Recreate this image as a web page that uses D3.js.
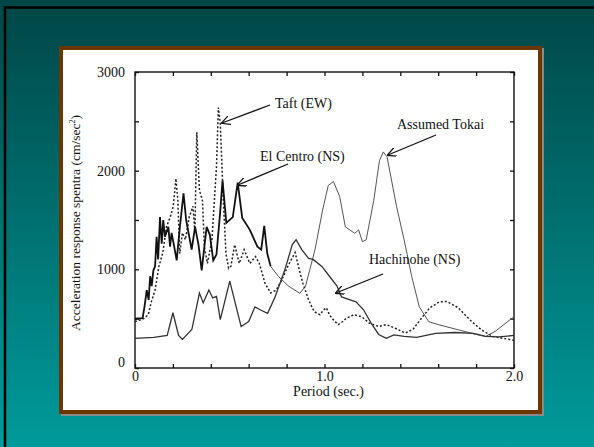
<!DOCTYPE html>
<html><head><meta charset="utf-8">
<script src="https://cdn.jsdelivr.net/npm/d3@7"></script>
<style>html,body{margin:0;padding:0;background:#fff}svg{display:block}</style>
</head><body>
<script>
// ---- data ----
const xTicks = [0,0.2,0.4,0.6,0.8,1.0,1.2,1.4,1.6,1.8,2.0];
const xTickLabels = {0:"0",1:"1.0",2:"2.0"};
const yTicks = [0,500,1000,1500,2000,2500,3000];
const yTickLabels = {0:"0",1000:"1000",2000:"2000",3000:"3000"};

const elCentro = [[0,500],[0.04,505],[0.05,620],[0.062,790],[0.072,690],[0.08,930],[0.088,830],[0.097,990],[0.106,1030],[0.114,1330],[0.122,1100],[0.132,1530],[0.141,1260],[0.149,1500],[0.158,1330],[0.176,1430],[0.185,1230],[0.193,1370],[0.205,1250],[0.22,1090],[0.237,1430],[0.256,1770],[0.27,1500],[0.299,1200],[0.317,1430],[0.335,1250],[0.352,990],[0.378,1430],[0.395,1350],[0.413,1090],[0.43,1150],[0.449,1570],[0.462,1900],[0.482,1470],[0.516,1530],[0.542,1880],[0.566,1520],[0.606,1400],[0.646,1230],[0.666,1200],[0.682,1440],[0.698,1160],[0.716,1030]];
const taft = [[0,470],[0.046,500],[0.07,540],[0.086,670],[0.106,790],[0.126,1030],[0.146,1160],[0.166,1430],[0.186,1530],[0.202,1640],[0.216,1920],[0.226,1700],[0.236,1160],[0.25,1370],[0.266,1300],[0.286,1530],[0.306,1640],[0.316,1370],[0.326,2390],[0.34,1800],[0.356,1700],[0.366,1230],[0.382,1060],[0.406,1300],[0.43,2040],[0.44,2640],[0.45,2480],[0.466,1700],[0.48,1160],[0.494,1010],[0.506,1030],[0.526,1250],[0.55,1060],[0.576,1200],[0.606,1060],[0.636,1130],[0.656,1060],[0.686,860],[0.716,760],[0.746,790],[0.776,900],[0.806,1030],[0.845,1170],[0.866,1000],[0.886,860],[0.916,690],[0.946,570],[0.976,540],[0.996,590],[1.01,610],[1.026,540],[1.046,490],[1.072,440],[1.086,455],[1.116,505],[1.156,540],[1.196,520],[1.236,455],[1.286,420],[1.326,440],[1.376,400],[1.426,355],[1.466,390],[1.506,490],[1.556,610],[1.606,670],[1.646,675],[1.706,610],[1.766,490],[1.826,390],[1.886,320],[1.946,300],[2.0,280]];
const hachinohe = [[0,300],[0.1,310],[0.17,330],[0.2,560],[0.23,330],[0.25,290],[0.3,390],[0.34,760],[0.36,660],[0.39,790],[0.41,710],[0.43,725],[0.45,490],[0.5,880],[0.56,420],[0.6,470],[0.633,620],[0.66,590],[0.70,554],[0.739,720],[0.79,990],[0.83,1250],[0.85,1300],[0.88,1200],[0.916,1110],[0.94,1100],[0.986,1030],[1.026,930],[1.066,830],[1.09,720],[1.12,700],[1.166,670],[1.206,590],[1.246,455],[1.286,340],[1.326,300],[1.366,335],[1.42,320],[1.486,310],[1.586,350],[1.686,360],[1.786,350],[1.85,320],[1.92,315],[2.0,330]];
const tokai = [[0.716,1030],[0.756,930],[0.81,830],[0.87,757],[0.9,830],[0.95,1200],[0.99,1600],[1.02,1850],[1.047,1890],[1.08,1740],[1.11,1430],[1.16,1365],[1.18,1400],[1.2,1280],[1.22,1300],[1.26,1700],[1.29,2100],[1.31,2190],[1.33,2140],[1.38,1640],[1.42,1300],[1.46,930],[1.5,620],[1.55,470],[1.6,440],[1.7,390],[1.8,340],[1.85,320],[1.9,370],[2.0,520]];

const annotations = [
  {text:"Taft (EW)", tx:275, ty:108, x1:270, y1:105, x2:222, y2:123},
  {text:"El Centro (NS)", tx:260, ty:161, x1:288, y1:164, x2:238, y2:185},
  {text:"Assumed Tokai", tx:397, ty:129, x1:436, y1:135, x2:388, y2:155},
  {text:"Hachinohe (NS)", tx:369, ty:264, x1:383, y1:274, x2:336, y2:293}
];

// ---- drawing ----
const W=594,H=447;
const svg=d3.select("body").append("svg").attr("width",W).attr("height",H);
const defs=svg.append("defs");
const g=defs.append("linearGradient").attr("id","bg").attr("x1",0).attr("y1",0).attr("x2",0).attr("y2",1);
g.append("stop").attr("offset","0%").attr("stop-color","#004646");
g.append("stop").attr("offset","100%").attr("stop-color","#009b9b");
svg.append("rect").attr("width",W).attr("height",H).attr("fill","url(#bg)");
svg.append("rect").attr("x",5).attr("y",7.5).attr("width",W+10).attr("height",H+10).attr("fill","none").attr("stroke","#000").attr("stroke-width",2.5);

// frame box
svg.append("rect").attr("x",61).attr("y",48).attr("width",483).attr("height",368).attr("fill","#8a8a8a");
svg.append("rect").attr("x",59).attr("y",46).attr("width",483).attr("height",368).attr("fill","#6b3600");
svg.append("rect").attr("x",63).attr("y",50).attr("width",475).attr("height",360).attr("fill","#fff");

const L=135,R=514,T=72,B=368;
const x=d3.scaleLinear().domain([0,2]).range([L,R]);
const y=d3.scaleLinear().domain([0,3000]).range([B,T]);
const font="'Liberation Serif','Times New Roman',serif";

const tickLen=4;
const axB=d3.axisBottom(x).tickValues(xTicks).tickSize(-tickLen).tickFormat(d=>xTickLabels[d]||"");
const axT=d3.axisTop(x).tickValues(xTicks).tickSize(-tickLen).tickFormat("");
const axL=d3.axisLeft(y).tickValues(yTicks).tickSize(-tickLen).tickFormat(d=>yTickLabels[d]||"");
const axR=d3.axisRight(y).tickValues(yTicks).tickSize(-tickLen).tickFormat("");
function styleAx(sel){sel.select(".domain").remove();sel.selectAll("line").attr("stroke","#111").attr("stroke-width",1.3);sel.selectAll("text").attr("font-family",font).attr("font-size",14).attr("fill","#111");}
const gb=svg.append("g").attr("transform",`translate(0,${B})`).call(axB).call(styleAx);
gb.selectAll("text").attr("y",3).attr("dy","0.71em");
svg.append("g").attr("transform",`translate(0,${T})`).call(axT).call(styleAx);
const gl=svg.append("g").attr("transform",`translate(${L},0)`).call(axL).call(styleAx);
gl.selectAll("text").attr("x",-10);
gl.selectAll(".tick").filter(d=>d===0).select("text").attr("dy","-0.1em");
svg.append("g").attr("transform",`translate(${R},0)`).call(axR).call(styleAx);
svg.append("rect").attr("x",L).attr("y",T).attr("width",R-L).attr("height",B-T).attr("fill","none").attr("stroke","#111").attr("stroke-width",1.4);

// axis titles
svg.append("text").attr("x",(L+R)/2+4).attr("y",396).attr("text-anchor","middle").attr("font-family",font).attr("font-size",14).attr("fill","#111").text("Period (sec.)");
const yt=svg.append("text").attr("transform","translate(80,223) rotate(-90)").attr("text-anchor","middle").attr("font-family",font).attr("font-size",13.5).attr("fill","#111");
yt.append("tspan").text("Acceleration response spentra (cm/sec");
yt.append("tspan").attr("font-size",8).attr("dy",-5).text("2");
yt.append("tspan").attr("dy",5).text(")");

// lines
const line=d3.line().x(d=>x(d[0])).y(d=>y(d[1]));
const plot=svg.append("g");
plot.append("path").datum(tokai).attr("d",line).attr("fill","none").attr("stroke","#555").attr("stroke-width",1.0);
plot.append("path").datum(taft).attr("d",line).attr("fill","none").attr("stroke","#222").attr("stroke-width",1.5).attr("stroke-dasharray","2,2");
plot.append("path").datum(hachinohe).attr("d",line).attr("fill","none").attr("stroke","#333").attr("stroke-width",1.3);
plot.append("path").datum(elCentro).attr("d",line).attr("fill","none").attr("stroke","#111").attr("stroke-width",1.8);

// annotations
defs.append("marker").attr("id","arr").attr("viewBox","0 0 10 10").attr("refX",9).attr("refY",5).attr("markerWidth",9).attr("markerHeight",9).attr("orient","auto").attr("markerUnits","userSpaceOnUse")
  .append("path").attr("d","M0,0 L10,5 L0,10").attr("fill","none").attr("stroke","#111").attr("stroke-width",1.4);
annotations.forEach(a=>{
  svg.append("line").attr("x1",a.x1).attr("y1",a.y1).attr("x2",a.x2).attr("y2",a.y2).attr("stroke","#111").attr("stroke-width",1.3).attr("marker-end","url(#arr)");
  svg.append("text").attr("x",a.tx).attr("y",a.ty).attr("font-family",font).attr("font-size",14).attr("fill","#111").text(a.text);
});
</script>
</body></html>
